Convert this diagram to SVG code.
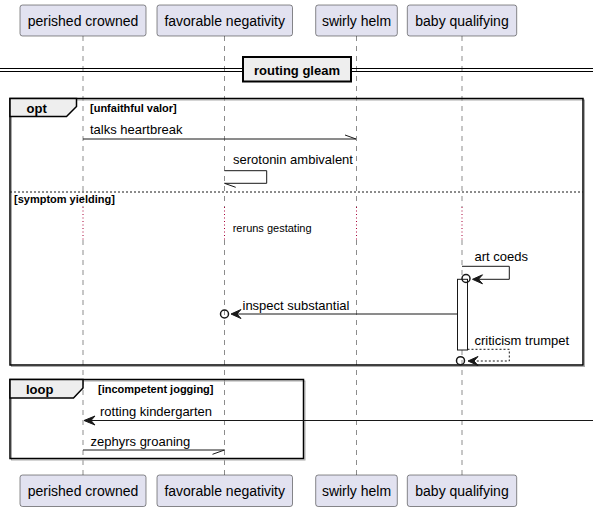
<svg xmlns="http://www.w3.org/2000/svg" width="599" height="511" viewBox="0 0 599 511">
<style>
.pbox{fill:#E2E2F0;stroke:#181818;stroke-width:0.5}
.ptxt{font-family:"Liberation Sans",Arial,sans-serif;font-size:14px;fill:#000;text-anchor:middle}
.life{stroke:#181818;stroke-width:0.5;stroke-dasharray:5,5;fill:none}
.delay{stroke:#A80036;stroke-width:1;stroke-dasharray:1,2.5;fill:none}
.msg{font-family:"Liberation Sans",Arial,sans-serif;font-size:13px;fill:#000}
.small{font-family:"Liberation Sans",Arial,sans-serif;font-size:11px;fill:#000}
.guard{font-family:"Liberation Sans",Arial,sans-serif;font-size:11px;font-weight:bold;fill:#000}
.ftitle{font-family:"Liberation Sans",Arial,sans-serif;font-size:13px;font-weight:bold;fill:#000}
.line{stroke:#181818;stroke-width:1;fill:none}
.dash{stroke:#181818;stroke-width:1;fill:none;stroke-dasharray:2,2}
.head{fill:#181818;stroke:#181818;stroke-width:1}
.circ{fill:none;stroke:#181818;stroke-width:1.5}
.shadow{fill:none;stroke:#AAAAAA;stroke-width:1}
.tab{fill:#EEEEEE;stroke:#000;stroke-width:1.5}
</style>
<g id="lifelines">
<line class="life" x1="83" y1="36" x2="83" y2="207"/>
<line class="delay" x1="83" y1="207" x2="83" y2="240"/>
<line class="life" x1="83" y1="240" x2="83" y2="475"/>
<line class="life" x1="224.5" y1="36" x2="224.5" y2="207"/>
<line class="delay" x1="224.5" y1="207" x2="224.5" y2="240"/>
<line class="life" x1="224.5" y1="240" x2="224.5" y2="475"/>
<line class="life" x1="356.5" y1="36" x2="356.5" y2="207"/>
<line class="delay" x1="356.5" y1="207" x2="356.5" y2="240"/>
<line class="life" x1="356.5" y1="240" x2="356.5" y2="475"/>
<line class="life" x1="462" y1="36" x2="462" y2="207"/>
<line class="delay" x1="462" y1="207" x2="462" y2="240"/>
<line class="life" x1="462" y1="240" x2="462" y2="475"/>
</g>
<g id="divider">
<line x1="0" y1="68.5" x2="593" y2="68.5" stroke="#000" stroke-width="1"/>
<line x1="0" y1="71.5" x2="593" y2="71.5" stroke="#000" stroke-width="1"/>
<rect x="243" y="57" width="108" height="24.5" fill="#EEEEEE" stroke="#000" stroke-width="2"/>
<text class="ftitle" x="297" y="74.5" text-anchor="middle">routing gleam</text>
</g>
<g id="frame-opt">
<rect class="shadow" x="11.5" y="100" width="573" height="266.5"/>
<rect x="10" y="98.5" width="573" height="266.5" fill="none" stroke="#000" stroke-width="1.5"/>
<polygon class="tab" points="10,98.5 76.5,98.5 76.5,106.5 66.5,116.5 10,116.5"/>
<text class="ftitle" x="26.5" y="112.5">opt</text>
<text class="guard" x="90" y="111.5">[unfaithful valor]</text>
<line class="dash" x1="10" y1="192" x2="583" y2="192"/>
<text class="guard" x="14" y="202.5">[symptom yielding]</text>
</g>
<g id="frame-loop">
<rect class="shadow" x="11.5" y="381" width="293.5" height="79"/>
<rect x="10" y="379.5" width="293.5" height="79" fill="none" stroke="#000" stroke-width="1.5"/>
<polygon class="tab" points="10,379.5 83,379.5 83,388 73.5,398 10,398"/>
<text class="ftitle" x="26" y="394">loop</text>
<text class="guard" x="98" y="392.5">[incompetent jogging]</text>
</g>
<g id="activation">
<rect x="457.5" y="279.3" width="10" height="70.7" fill="#FFFFFF" stroke="#181818" stroke-width="1"/>
</g>
<g id="connectors">
<line class="line" x1="83" y1="139" x2="356" y2="139"/>
<line class="line" x1="345" y1="135" x2="356" y2="139"/>
<text class="msg" x="90" y="134.3">talks heartbreak</text>
<polyline class="line" points="224.5,170.7 266.7,170.7 266.7,183.3 224.5,183.3"/>
<line class="line" x1="224.5" y1="183.3" x2="235.7" y2="187.3"/>
<text class="msg" x="233" y="164.3">serotonin ambivalent</text>
<text class="small" x="232.7" y="231.7">reruns gestating</text>
<polyline class="line" points="462,266.3 509.3,266.3 509.3,279.3 476,279.3"/>
<polygon class="head" points="472.5,279.3 482.5,274.8 478.5,279.3 482.5,283.8"/>
<circle class="circ" cx="466" cy="278.5" r="4"/>
<text class="msg" x="474.5" y="260.5">art coeds</text>
<line class="line" x1="457.5" y1="314" x2="234" y2="314"/>
<polygon class="head" points="231,314 241,309.5 237,314 241,318.5"/>
<circle class="circ" cx="224.5" cy="314" r="4"/>
<text class="msg" x="242.5" y="309.5">inspect substantial</text>
<polyline class="dash" points="467.5,349.3 509.3,349.3 509.3,361 472,361"/>
<polygon class="head" points="468,361 478,356.5 474,361 478,365.5"/>
<circle class="circ" cx="460.5" cy="360.7" r="4"/>
<text class="msg" x="474.5" y="344.5">criticism trumpet</text>
<line class="line" x1="593" y1="420.5" x2="87" y2="420.5"/>
<polygon class="head" points="84,420.5 95,416 91,420.5 95,425"/>
<text class="msg" x="100" y="415.5">rotting kindergarten</text>
<line class="line" x1="83" y1="450" x2="224.5" y2="450"/>
<line class="line" x1="212.5" y1="454.3" x2="224.5" y2="450"/>
<text class="msg" x="90.5" y="445.5">zephyrs groaning</text>
</g>
<g id="p-perished-crowned">
<rect class="pbox" x="20" y="5" width="126" height="31" rx="2.5"/>
<text class="ptxt" x="83" y="25.5">perished crowned</text>
<rect class="pbox" x="20" y="475" width="126" height="31.5" rx="2.5"/>
<text class="ptxt" x="83" y="495.5">perished crowned</text>
</g>
<g id="p-favorable-negativity">
<rect class="pbox" x="157" y="5" width="135.5" height="31" rx="2.5"/>
<text class="ptxt" x="224.7" y="25.5">favorable negativity</text>
<rect class="pbox" x="157" y="475" width="135.5" height="31.5" rx="2.5"/>
<text class="ptxt" x="224.7" y="495.5">favorable negativity</text>
</g>
<g id="p-swirly-helm">
<rect class="pbox" x="315.7" y="5" width="81.6" height="31" rx="2.5"/>
<text class="ptxt" x="356.5" y="25.5">swirly helm</text>
<rect class="pbox" x="315.7" y="475" width="81.6" height="31.5" rx="2.5"/>
<text class="ptxt" x="356.5" y="495.5">swirly helm</text>
</g>
<g id="p-baby-qualifying">
<rect class="pbox" x="407.3" y="5" width="109.4" height="31" rx="2.5"/>
<text class="ptxt" x="462" y="25.5">baby qualifying</text>
<rect class="pbox" x="407.3" y="475" width="109.4" height="31.5" rx="2.5"/>
<text class="ptxt" x="462" y="495.5">baby qualifying</text>
</g>
</svg>
